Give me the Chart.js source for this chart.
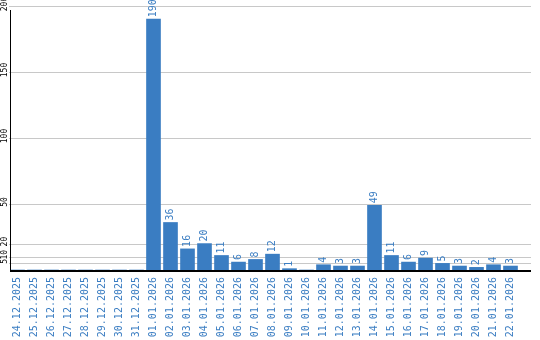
<!DOCTYPE html>
<html>
<head>
<meta charset="utf-8">
<script src="https://cdn.jsdelivr.net/npm/chart.js@4/dist/chart.umd.min.js"></script>
<style>
  html, body { margin: 0; padding: 0; background: #fff; }
  #wrap { width: 540px; height: 340px; }
</style>
</head>
<body>
<div id="wrap"><canvas id="myChart"></canvas></div>
<script>
var days = ["24.12.2025", "25.12.2025", "26.12.2025", "27.12.2025", "28.12.2025", "29.12.2025",
  "30.12.2025", "31.12.2025", "01.01.2026", "02.01.2026", "03.01.2026", "04.01.2026",
  "05.01.2026", "06.01.2026", "07.01.2026", "08.01.2026", "09.01.2026", "10.01.2026",
  "11.01.2026", "12.01.2026", "13.01.2026", "14.01.2026", "15.01.2026", "16.01.2026",
  "17.01.2026", "18.01.2026", "19.01.2026", "20.01.2026", "21.01.2026", "22.01.2026"];
var counts = [0, 0, 0, 0, 0, 0, 0, 0, 190, 36, 16, 20, 11, 6, 8, 12, 1, 0, 4, 3, 3, 49, 11, 6, 9, 5, 3, 2, 4, 3];
var yTicks = [5, 10, 20, 50, 100, 150, 200];

var blue = "#3a7dc2";
var mono = "'DejaVu Sans Mono', monospace";
var gridRight = 531;

// grid lines, axis lines and rotated y labels
var axisPlugin = {
  id: "axisPlugin",
  beforeDatasetsDraw: function(chart) {
    var ctx = chart.ctx;
    var y = chart.scales.y;
    var area = chart.chartArea;
    ctx.save();
    ctx.strokeStyle = "#c8c8c8";
    ctx.lineWidth = 1;
    yTicks.forEach(function(v) {
      var py = Math.round(y.getPixelForValue(v)) + 0.5;
      ctx.beginPath();
      ctx.moveTo(area.left, py);
      ctx.lineTo(gridRight, py);
      ctx.stroke();
    });
    // y labels
    ctx.fillStyle = "#000";
    ctx.font = "8px " + mono;
    ctx.textAlign = "center";
    ctx.textBaseline = "middle";
    yTicks.forEach(function(v) {
      var py = y.getPixelForValue(v) - 2;
      ctx.save();
      ctx.translate(4.5, py);
      ctx.rotate(-Math.PI / 2);
      ctx.fillText(String(v), 0, 0);
      ctx.restore();
    });
    ctx.restore();
  },
  afterDatasetsDraw: function(chart) {
    var ctx = chart.ctx;
    var area = chart.chartArea;
    var meta = chart.getDatasetMeta(0);
    ctx.save();
    // axis lines
    ctx.strokeStyle = "#000";
    ctx.lineWidth = 1;
    ctx.beginPath();
    ctx.moveTo(10.5, area.top + 4);
    ctx.lineTo(10.5, area.bottom);
    ctx.stroke();
    ctx.lineWidth = 2;
    ctx.beginPath();
    ctx.moveTo(10, area.bottom + 1);
    ctx.lineTo(gridRight, area.bottom + 1);
    ctx.stroke();
    // value labels
    ctx.fillStyle = blue;
    ctx.font = "10px " + mono;
    ctx.textAlign = "left";
    ctx.textBaseline = "middle";
    meta.data.forEach(function(bar, i) {
      if (!counts[i]) return;
      ctx.save();
      ctx.translate(bar.x, bar.y - 2);
      ctx.rotate(-Math.PI / 2);
      ctx.fillText(String(counts[i]), 0, 0);
      ctx.restore();
    });
    ctx.restore();
  }
};

var ctx = document.getElementById("myChart").getContext("2d");
var chart = new Chart(ctx, {
  type: "bar",
  data: {
    labels: days,
    datasets: [{
      data: counts,
      backgroundColor: blue,
      borderWidth: 0,
      barThickness: 14
    }]
  },
  options: {
    responsive: true,
    maintainAspectRatio: false,
    animation: false,
    layout: { padding: { top: 6, right: 21, left: 0, bottom: 0 } },
    plugins: { legend: { display: false }, tooltip: { enabled: false } },
    scales: {
      x: {
        offset: true,
        grid: { display: false, drawTicks: false },
        border: { display: false },
        ticks: {
          autoSkip: false,
          minRotation: 90,
          maxRotation: 90,
          padding: 7,
          color: blue,
          font: { family: mono, size: 10 }
        },
        afterFit: function(scale) { scale.height = 70; }
      },
      y: {
        min: 0,
        max: 200,
        grid: { display: false },
        border: { display: false },
        ticks: { display: false },
        afterBuildTicks: function(scale) {
          scale.ticks = yTicks.map(function(v) { return { value: v }; });
        },
        afterFit: function(scale) { scale.width = 9; }
      }
    }
  },
  plugins: [axisPlugin]
});
</script>
</body>
</html>
